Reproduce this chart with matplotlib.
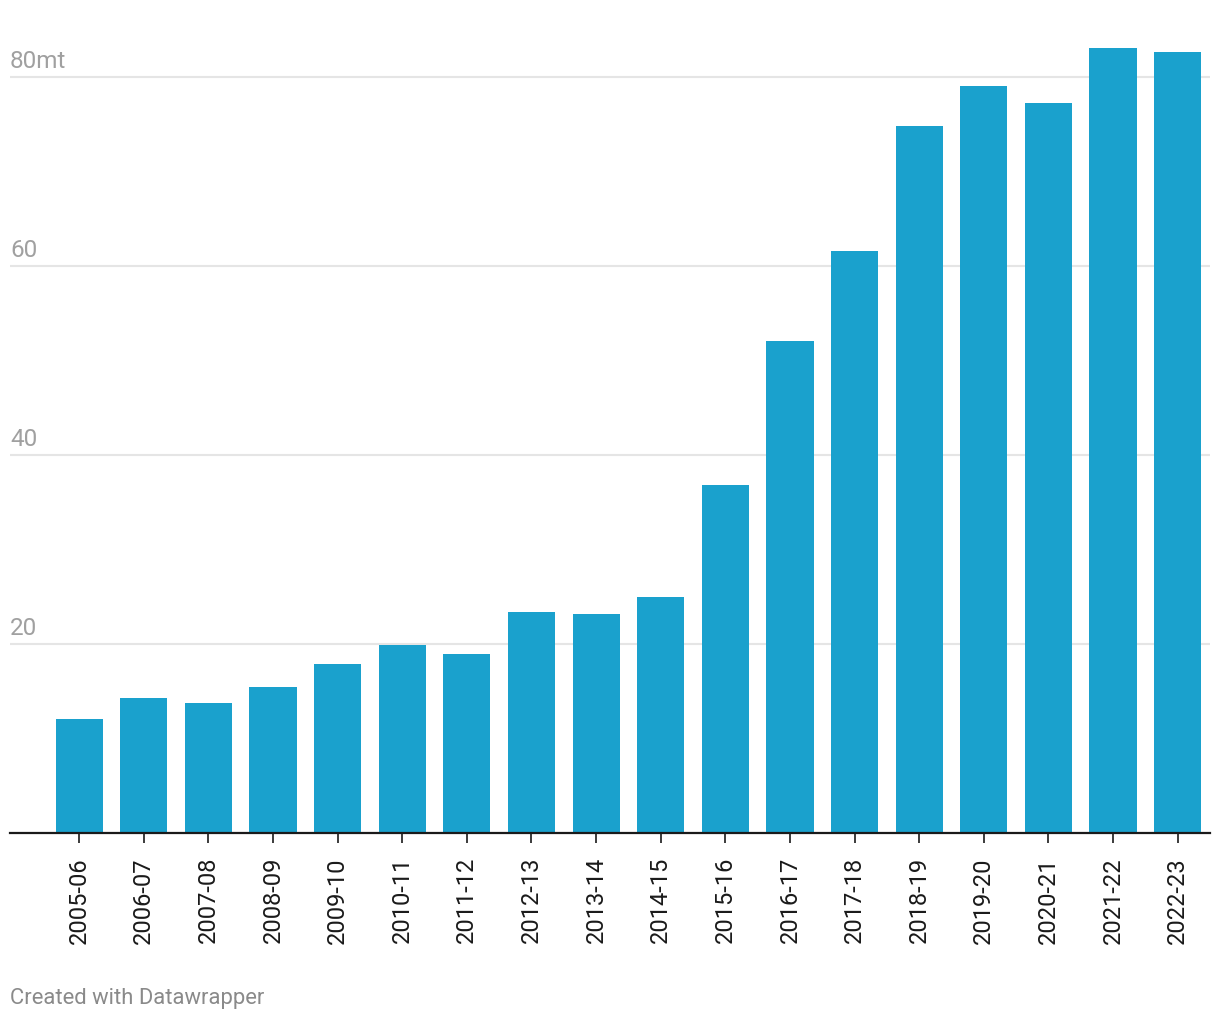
import matplotlib
matplotlib.use("Agg")
import matplotlib.pyplot as plt
from matplotlib import transforms

plt.rcParams['font.family'] = ['Roboto', 'DejaVu Sans']

categories = ["2005-06", "2006-07", "2007-08", "2008-09", "2009-10", "2010-11",
              "2011-12", "2012-13", "2013-14", "2014-15", "2015-16", "2016-17",
              "2017-18", "2018-19", "2019-20", "2020-21", "2021-22", "2022-23"]
values = [12.0, 14.2, 13.7, 15.4, 17.8, 19.9, 18.9, 23.4, 23.1, 24.9,
          36.8, 52.1, 61.6, 74.8, 79.1, 77.3, 83.1, 82.7]
yticks = [20, 40, 60, 80]
ytick_labels = ["20", "40", "60", "80mt"]
footer = "Created with Datawrapper"

W, H = 1220, 1020
fig = plt.figure(figsize=(W / 100, H / 100), dpi=100)
# axes: x from 10 to 1210 px, y: 0 at ~833 px
y0_px, scale = 833.5, 9.44
ymax = 86
top_px = y0_px - ymax * scale
ax = fig.add_axes([10 / W, (H - y0_px) / H, 1200 / W, (y0_px - top_px) / H])

x = list(range(len(categories)))
ax.bar(x, values, width=0.73, color="#1aa1cd", zorder=2)
ax.set_xlim(-1.07, len(categories) - 0.5)
ax.set_ylim(0, ymax)

for t in yticks:
    ax.axhline(t, color="#e5e5e5", lw=1.5, zorder=1)

for s in ["top", "right", "left"]:
    ax.spines[s].set_visible(False)
ax.spines["bottom"].set_color("#1a1a1a")
ax.spines["bottom"].set_linewidth(1.6)
ax.spines["bottom"].set_zorder(3)

ax.set_yticks([])
ax.set_xticks(x)
ax.set_xticklabels(categories, rotation=90, fontsize=17, color="#1a1a1a")
ax.tick_params(axis="x", length=7.5, width=1.2, color="#1a1a1a", pad=9.5)

trans = transforms.blended_transform_factory(ax.transAxes, ax.transData)
for t, lab in zip(yticks, ytick_labels):
    ax.annotate(lab, xy=(0, t), xycoords=trans, xytext=(0, 7.3), textcoords="offset points",
                ha="left", va="baseline", fontsize=17.5, color="#a0a0a0")

fig.text(10 / W, 1 - 1004 / H, footer, ha="left", va="baseline", fontsize=15.8, color="#8a8a8a")

fig.savefig("out.png", dpi=100, facecolor="white")
